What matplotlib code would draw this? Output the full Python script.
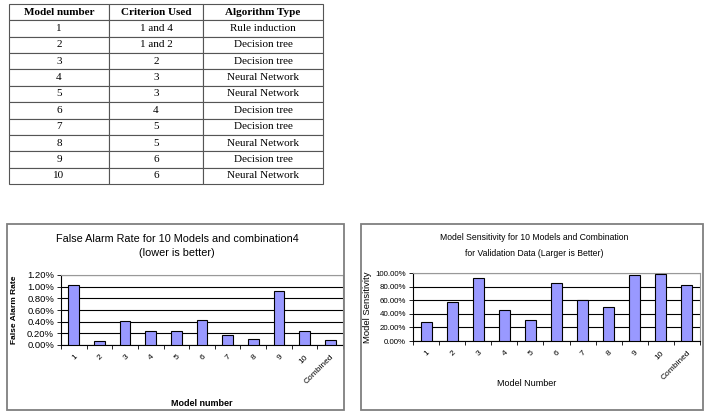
import numpy as np
import matplotlib.pyplot as plt
from matplotlib.patches import Rectangle
from matplotlib.ticker import FuncFormatter

# Table data
col_labels = ['Model number', 'Criterion Used', 'Algorithm Type']
model_nums = ['1', '2', '3', '4', '5', '6', '7', '8', '9', '10']
criteria = ['1 and 4', '1 and 2', '2', '3', '3', '4', '5', '5', '6', '6']
algorithms = ['Rule induction', 'Decision tree', 'Decision tree', 'Neural Network',
              'Neural Network', 'Decision tree', 'Decision tree', 'Neural Network',
              'Decision tree', 'Neural Network']

# Chart data
categories = ['1', '2', '3', '4', '5', '6', '7', '8', '9', '10', 'Combined']
false_alarm = [1.03, 0.07, 0.41, 0.24, 0.24, 0.43, 0.17, 0.11, 0.93, 0.24, 0.09]   # percent
sensitivity = [27.5, 57.5, 92, 46, 31.5, 86, 61, 50, 97, 98, 82]   # percent

W, H = 707, 417
fig = plt.figure(figsize=(W / 100, H / 100), dpi=100)
plt.rcParams['font.family'] = 'Liberation Sans'


def px_axes(x0, y0, x1, y1):
    # pixel box (top-left origin) -> figure axes
    return fig.add_axes([x0 / W, 1 - y1 / H, (x1 - x0) / W, (y1 - y0) / H])


def frame(x0, y0, x1, y1):
    fig.patches.append(Rectangle((x0 / W, 1 - y1 / H), (x1 - x0) / W, (y1 - y0) / H,
                                 transform=fig.transFigure, fill=False,
                                 edgecolor='#7f7f7f', linewidth=1.3))


# ---- table ----
tax = px_axes(9, 4, 323, 184)
tax.axis('off')
rows = [[m, c, a] for m, c, a in zip(model_nums, criteria, algorithms)]
tbl = tax.table(cellText=rows, colLabels=col_labels, cellLoc='center',
                bbox=[0, 0, 1, 1], colWidths=[100, 94, 120])
tbl.auto_set_font_size(False)
for (r, c), cell in tbl.get_celld().items():
    cell.set_edgecolor('#555555')
    cell.set_linewidth(0.8)
    cell.get_text().set_fontfamily('Liberation Serif')
    cell.get_text().set_fontsize(8)
    if r == 0:
        cell.get_text().set_fontweight('bold')


def bar_chart(ax, vals, ymax, step, fmt, ytick_fs, xtick_fs):
    x = np.arange(len(vals))
    ax.bar(x, vals, width=0.42, color='#9999ff', edgecolor='black', linewidth=0.8, zorder=3)
    ax.set_xlim(-0.5, len(vals) - 0.5)
    ax.set_ylim(0, ymax)
    ax.set_yticks(np.arange(0, ymax + step / 2, step))
    ax.yaxis.set_major_formatter(FuncFormatter(fmt))
    ax.yaxis.grid(True, color='black', linewidth=0.8, zorder=0)
    ax.set_xticks(x)
    ax.set_xticklabels(categories, rotation=45, ha='right', va='top',
                       rotation_mode='anchor', fontsize=xtick_fs)
    ax.set_xticks(np.arange(-0.5, len(vals)), minor=True)
    ax.tick_params(axis='x', which='major', length=0, pad=6)
    ax.tick_params(axis='x', which='minor', length=3, width=0.6)
    ax.tick_params(axis='y', length=3, width=0.6, labelsize=ytick_fs, pad=2)
    for s in ['top', 'right']:
        ax.spines[s].set_color('#999999')
    for s in ['left', 'bottom']:
        ax.spines[s].set_color('black')
        ax.spines[s].set_linewidth(0.8)


# ---- left chart ----
frame(7, 224, 344, 410)
ax1 = px_axes(61, 275, 343, 345)
bar_chart(ax1, false_alarm, 1.2, 0.2, lambda v, p: f'{v:.2f}%', 6.8, 6)
ax1.set_ylabel('False Alarm Rate', fontsize=6, fontweight='bold')
ax1.yaxis.set_label_coords(-43 / 282, 0.5)
ax1.set_xlabel('Model number', fontsize=6.5, fontweight='bold', labelpad=10)
fig.text(177 / W, 1 - 239 / H, 'False Alarm Rate for 10 Models and combination4',
         ha='center', va='center', fontsize=7.8)
fig.text(177 / W, 1 - 253 / H, '(lower is better)', ha='center', va='center', fontsize=7.8)

# ---- right chart ----
frame(361, 224, 703, 410)
ax2 = px_axes(413, 273, 700, 341)
bar_chart(ax2, sensitivity, 100, 20, lambda v, p: f'{v:.2f}%', 5.7, 6)
ax2.set_ylabel('Model Sensitivity', fontsize=6.8)
ax2.yaxis.set_label_coords(-41 / 287, 0.5)
fig.text(527 / W, 1 - 383 / H, 'Model Number', ha='center', va='center', fontsize=6.5)
fig.text(534 / W, 1 - 238 / H, 'Model Sensitivity for 10 Models and Combination',
         ha='center', va='center', fontsize=6.2)
fig.text(534 / W, 1 - 253 / H, 'for Validation Data (Larger is Better)',
         ha='center', va='center', fontsize=6.2)

fig.savefig('out.png', dpi=100)
